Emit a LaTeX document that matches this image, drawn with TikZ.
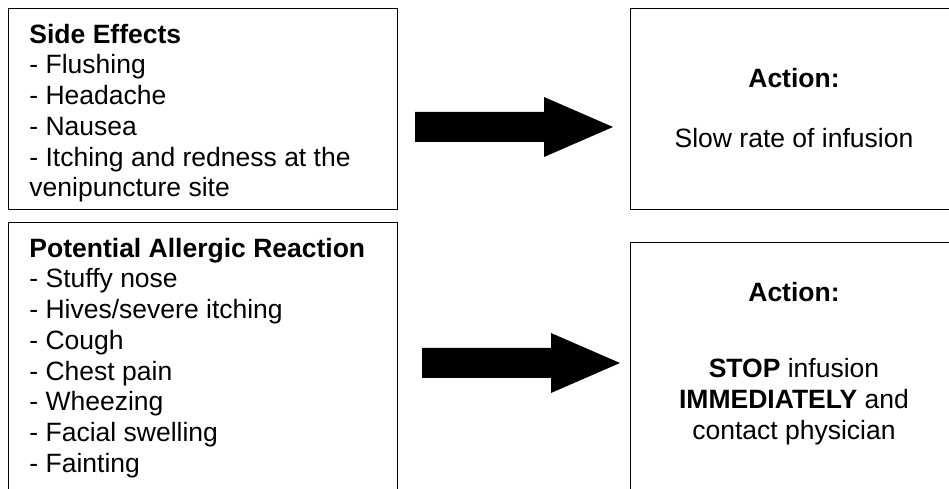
\documentclass[tikz,border=0pt]{standalone}
\usepackage{fontspec}
\setmainfont{Liberation Sans}
\tikzset{
  box/.style={draw, line width=0.6pt, anchor=north west, inner sep=0pt},
  listtext/.style={anchor=north west, align=left, inner sep=0pt},
  acttext/.style={align=center, inner sep=0pt}
}
\begin{document}
\begin{tikzpicture}[x=0.4528pt,y=-0.4528pt,font=\fontsize{12}{13.9}\selectfont]
\useasboundingbox (0,0) rectangle (949,489);
\clip (0,0) rectangle (949,489);

\node[box, minimum width=389*0.4528pt, minimum height=201*0.4528pt] (sidebox) at (8,8) {};
\node[box, minimum width=389*0.4528pt, minimum height=300*0.4528pt] (allergybox) at (8,222) {};
\node[box, minimum width=360*0.4528pt, minimum height=201*0.4528pt] (slowbox) at (630,8) {};
\node[box, minimum width=360*0.4528pt, minimum height=300*0.4528pt] (stopbox) at (630,242) {};

\node[listtext] (sidetext) at (29,23.6)
  {\textbf{Side Effects}\\- Flushing\\- Headache\\- Nausea\\- Itching and redness at the\\venipuncture site};
\node[listtext] (allergytext) at (29,237.6)
  {\textbf{Potential Allergic Reaction}\\- Stuffy nose\\- Hives/severe itching\\- Cough\\- Chest pain\\- Wheezing\\- Facial swelling\\- Fainting};

\node[acttext, anchor=base] (slowhead) at (794,88) {\textbf{Action:}};
\node[acttext, anchor=base] (slowtext) at (794,148) {Slow rate of infusion};
\node[acttext, anchor=base] (stophead) at (794,302) {\textbf{Action:}};
\node[acttext, anchor=north] (stoptext) at (794,358)
  {\textbf{STOP} infusion\\\textbf{IMMEDIATELY} and\\contact physician};

\foreach \dx/\dy in {0/0, 7/236}
\fill[shift={(\dx,\dy)}]
       (415,112) -- (544,112) -- (544,97) -- (613,127) -- (544,157) -- (544,142) -- (415,142) -- cycle;
\end{tikzpicture}
\end{document}
